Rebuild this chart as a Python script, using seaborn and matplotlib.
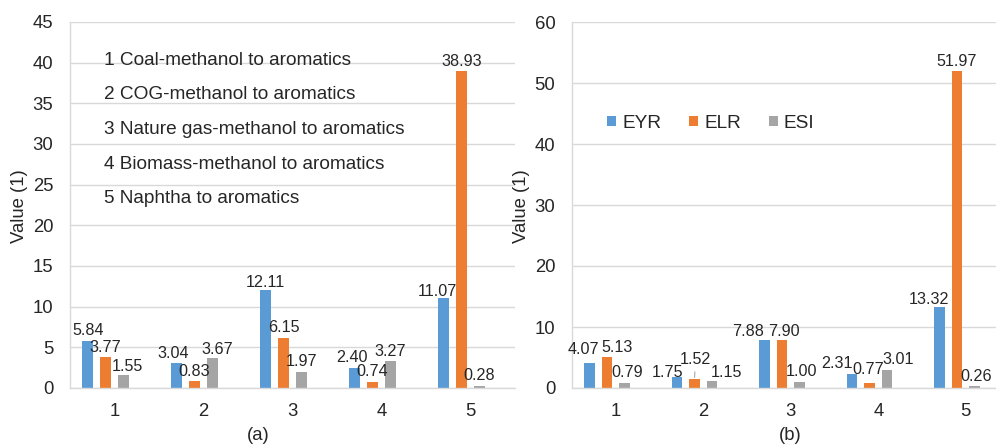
import matplotlib
matplotlib.use("Agg")
import matplotlib.pyplot as plt
from matplotlib.patches import Patch
import seaborn as sns
import pandas as pd

# ---------------- data ----------------
categories = ["1", "2", "3", "4", "5"]
series = ["EYR", "ELR", "ESI"]

a_eyr = [5.84, 3.04, 12.11, 2.40, 11.07]
a_elr = [3.77, 0.83, 6.15, 0.74, 38.93]
a_esi = [1.55, 3.67, 1.97, 3.27, 0.28]

b_eyr = [4.07, 1.75, 7.88, 2.31, 13.32]
b_elr = [5.13, 1.52, 7.90, 0.77, 51.97]
b_esi = [0.79, 1.15, 1.00, 3.01, 0.26]

process_names = [
    "1 Coal-methanol to aromatics",
    "2 COG-methanol to aromatics",
    "3 Nature gas-methanol to aromatics",
    "4 Biomass-methanol to aromatics",
    "5 Naphtha to aromatics",
]

a_ticks = [0, 5, 10, 15, 20, 25, 30, 35, 40, 45]
b_ticks = [0, 10, 20, 30, 40, 50, 60]

# ---------------- style ----------------
colors = {"EYR": "#5B9BD5", "ELR": "#ED7D31", "ESI": "#A5A5A5", "_blank": "#FFFFFF"}
grid_c = "#D9D9D9"
text_c = "#262626"

sns.set_theme(style="white")
plt.rcParams["font.family"] = ["Liberation Sans", "DejaVu Sans"]

# label nudges in pixels (dx, dy) relative to default placement (0, 10)
nudge_a = {
    (2, 0): (4, 9), (0, 1): (-4, 10), (2, 1): (5, 9),
    (0, 2): (0, 7.5), (0, 3): (-3, 10.5), (0, 4): (-6, 6),
}
nudge_b = {
    (0, 0): (-6, 14), (1, 0): (10, 9), (2, 0): (3, 11),
    (0, 1): (-10, 5), (1, 1): (1, 19), (2, 1): (14, 8),
    (0, 2): (-16, 8), (1, 2): (2, 8), (2, 2): (2, 10),
    (0, 3): (-15, 10), (1, 3): (-1, 14), (2, 3): (11, 10),
    (0, 4): (-11, 7), (1, 4): (0, 9), (2, 4): (2, 10),
}
leader_b = {(1, 1)}


def make_df(eyr, elr, esi):
    rows = []
    for name, vals in zip(series, [eyr, elr, esi]):
        for c, v in zip(categories, vals):
            rows.append({"cat": c, "index": name, "value": v})
    return pd.DataFrame(rows)


W, H = 996, 445
fig = plt.figure(figsize=(W / 100, H / 100), dpi=100)
axA = fig.add_axes([70 / W, 57 / H, 445 / W, 366 / H])
axB = fig.add_axes([572 / W, 57 / H, 437.5 / W, 366 / H])


def draw(ax, df, vals, ymax, ticks, nudges, leaders, label_x):
    sns.barplot(data=df, x="cat", y="value", hue="index", order=categories,
                hue_order=series + ["_blank"], palette=colors, saturation=1,
                width=0.8, gap=0.4, errorbar=None, legend=False, ax=ax,
                edgecolor="none", linewidth=0)
    ax.set_xlim(-0.5, 4.5)
    ax.set_ylim(0, ymax)
    ax.set_yticks(ticks)
    ax.set_yticklabels([str(t) for t in ticks])
    ax.yaxis.grid(True, color=grid_c, lw=1.0)
    ax.set_axisbelow(True)
    for s in ["top", "right"]:
        ax.spines[s].set_visible(False)
    for s in ["left", "bottom"]:
        ax.spines[s].set_color(grid_c)
        ax.spines[s].set_linewidth(1.0)
    ax.tick_params(axis="y", length=0, pad=12, labelsize=13.3, labelcolor=text_c)
    ax.tick_params(axis="x", length=0, pad=11, labelsize=13.3, labelcolor=text_c)
    ax.set_xlabel("")
    ax.set_ylabel("Value (1)", fontsize=13.3, color=text_c)
    ax.yaxis.set_label_coords(label_x, 0.497)

    for si, cont in enumerate(ax.containers[:3]):
        bars = sorted(cont.patches, key=lambda p: p.get_x())
        for ci, bar in enumerate(bars):
            v = vals[si][ci]
            xc = bar.get_x() + bar.get_width() / 2
            top = bar.get_height()
            dx, dy = nudges.get((si, ci), (0, 10))
            kw = {}
            if (si, ci) in leaders:
                kw["arrowprops"] = dict(arrowstyle="-", color="#A6A6A6", lw=0.8,
                                        shrinkA=1, shrinkB=1)
            ax.annotate(f"{v:.2f}", xy=(xc, top), xytext=(dx, dy),
                        textcoords="offset pixels", ha="center", va="center",
                        fontsize=11.6, color=text_c, **kw)


draw(axA, make_df(a_eyr, a_elr, a_esi), [a_eyr, a_elr, a_esi], 45, a_ticks,
     nudge_a, set(), -0.094)
draw(axB, make_df(b_eyr, b_elr, b_esi), [b_eyr, b_elr, b_esi], 60, b_ticks,
     nudge_b, leader_b, -0.096)

# process list in panel (a)
for i, name in enumerate(process_names):
    axA.text(0.0764, 0.896 - i * 0.0948, name, transform=axA.transAxes,
             ha="left", va="center", fontsize=13.7, color=text_c)

# legend in panel (b)
handles = [Patch(facecolor=colors[s], edgecolor="none", label=s) for s in series]
axB.legend(handles=handles, loc="center left", bbox_to_anchor=(0.08, 0.724),
           ncol=3, frameon=False, fontsize=13.7, handlelength=0.47, handleheight=0.47,
           handletextpad=0.32, columnspacing=1.47, borderpad=0, borderaxespad=0,
           labelcolor=text_c)

fig.text(258 / W, 1 - 435 / H, "(a)", ha="center", va="center", fontsize=13.3, color=text_c)
fig.text(790 / W, 1 - 435 / H, "(b)", ha="center", va="center", fontsize=13.3, color=text_c)

fig.savefig("out.png", dpi=100)
